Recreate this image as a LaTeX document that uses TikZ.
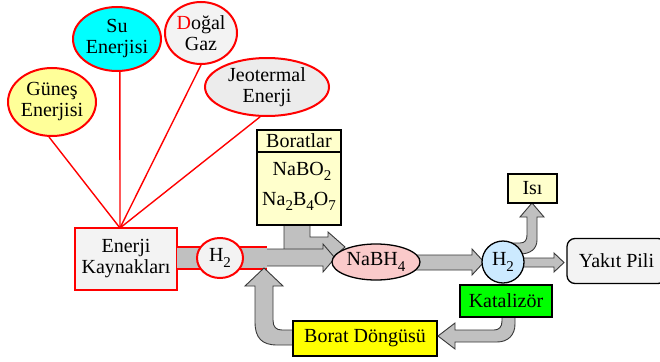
\documentclass[tikz,border=0pt]{standalone}
\usepackage{fontspec}
\setmainfont{LiberationSerif}[Extension=.ttf,UprightFont=*-Regular,BoldFont=*-Bold]
\usetikzlibrary{shapes.geometric}
\definecolor{gyel}{HTML}{FFFF99}
\definecolor{lgray}{HTML}{F3F3F3}
\definecolor{jgray}{HTML}{ECECEC}
\definecolor{pyel}{HTML}{FFFFCC}
\definecolor{pink}{HTML}{FACACA}
\definecolor{lblue}{HTML}{CCEAFF}
\definecolor{cyanfill}{HTML}{00FFFF}
\definecolor{yelfill}{HTML}{FFFF00}
\definecolor{grnfill}{HTML}{00FF00}
\definecolor{redline}{HTML}{FF0000}
\definecolor{arrgray}{HTML}{C0C0C0}
\definecolor{arrline}{HTML}{383838}
\newcommand\sbs[1]{\raisebox{-5.5pt}{\fontsize{15}{15}\selectfont #1}}
\begin{document}
\begin{tikzpicture}[x=1pt,y=-1pt,font=\fontsize{20}{21}\selectfont,
  src/.style={ellipse,draw=redline,line width=2pt,inner sep=0pt,align=center},
  rline/.style={redline,line width=1.4pt},
  box/.style={draw=black,line width=1.3pt,inner sep=0pt,align=center},
  blk/.style={fill=arrgray,draw=arrline,line width=0.9pt,line join=miter}]
\useasboundingbox (0,0) rectangle (660,361);
\clip (0,0) rectangle (660,361);
\fill[white] (0,0) rectangle (660,361);

% energy sources
\node[src,fill=gyel,minimum width=82pt,minimum height=68pt] (gunes) at (52,102) {Güneş\\Enerjisi};
\node[src,fill=cyanfill,minimum width=82pt,minimum height=64pt] (su) at (117,39) {Su\\Enerjisi};
\node[src,fill=lgray,minimum width=72pt,minimum height=62pt] (gaz) at (201,33) {{\color{redline}D}oğal\\Gaz};
\node[src,fill=jgray,minimum width=124pt,minimum height=58pt] (jeo) at (267,87) {Jeotermal\\Enerji};
\coordinate (kt) at (120,228);
\draw[rline] (gunes.-95) -- (kt);
\draw[rline] (su.-85) -- (kt);
\draw[rline] (gaz.south) -- (kt);
\draw[rline] (jeo.-103) -- (kt);
\node[box,draw=redline,line width=2pt,fill=lgray,minimum width=102pt,minimum height=62pt] (kaynak) at (126,259) {Enerji\\Kaynakları};

% band from energy sources to H2
\fill[arrgray] (177,247) rectangle (267,269);
\draw[redline,line width=1.2pt] (177,247) -- (267,247) (177,269) -- (267,269);

% Boratlar arrow
\path[blk] (310,224) -- (310,237) -- (328,237) -- (328,232) -- (345,247) -- (328,262) -- (328,256) -- (284,256) -- (284,224);
% main arrow
\path[blk] (267,266) -- (323,266) -- (323,272) -- (335,258) -- (323,244) -- (323,249) -- (267,249);
% return arrow
\path[blk] (297,345) -- (277,345) .. controls (262,345) and (255,338) .. (255,322) -- (255,286) -- (245,286) -- (264,268) -- (283,286) -- (273,286) -- (273,320) .. controls (273,327) and (276,330) .. (282,330) -- (297,330);

\node[src,fill=lgray,minimum width=46pt,minimum height=40pt] (h2a) at (220,258) {H\sbs{2}};

% Boratlar box
\node[box,fill=pyel,minimum width=84pt,minimum height=95pt] (borat) at (299,177.5) {};
\draw[line width=1.3pt] (257,152) -- (341,152);
\node[inner sep=0pt] (bt) at (299,141) {Boratlar};
\node[inner sep=0pt,anchor=base] (nabo) at (302,175) {NaBO\sbs{2}};
\node[inner sep=0pt,anchor=base] (nab) at (299,205) {Na\sbs{2}B\sbs{4}O\sbs{7}};

% NaBH4 -> H2 arrow
\path[blk] (415,255) -- (472,255) -- (472,249) -- (484,262) -- (472,275) -- (472,270) -- (415,270) -- cycle;
\node[ellipse,draw=black,line width=1.3pt,fill=pink,inner sep=0pt,minimum width=88pt,minimum height=36pt] (nabh) at (376,262) {NaBH\sbs{4}};

% H2 -> Isi arrow
\path[blk] (505,254) -- (520,254) .. controls (530,254) and (537,249) .. (537,240) -- (537,217) -- (544,217) -- (532,203) -- (520,217) -- (527,217) -- (527,235) .. controls (527,240) and (525,243) .. (520,243) -- (505,243) -- cycle;
% H2 -> Yakit Pili arrow
\path[blk] (515,258) -- (554,258) -- (554,253) -- (564,262.5) -- (554,272) -- (554,267) -- (515,267) -- cycle;

\node[circle,draw=black,line width=1.3pt,fill=lblue,inner sep=0pt,minimum size=42pt] (h2b) at (503,262) {H\sbs{2}};
\node[box,fill=pyel,minimum width=49pt,minimum height=29pt] (isi) at (532.5,188.5) {Isı};
\node[box,fill=lgray,rounded corners=8pt,minimum width=99pt,minimum height=45pt] (yakit) at (616.5,261) {Yakıt Pili};

% Borat Dongusu and return from catalyst
\node[box,fill=yelfill,minimum width=144pt,minimum height=35pt] (dongu) at (365,338.5) {Borat Döngüsü};
\path[blk] (502,310) -- (502,321) .. controls (502,327) and (499,330) .. (494,330) -- (455,330) -- (455,323) -- (438,336) -- (455,349) -- (455,342) -- (497,342) .. controls (508,342) and (515,335) .. (515,324) -- (515,310);
\node[box,fill=grnfill,minimum width=92pt,minimum height=32pt] (kat) at (506,301) {Katalizör};
\end{tikzpicture}
\end{document}
